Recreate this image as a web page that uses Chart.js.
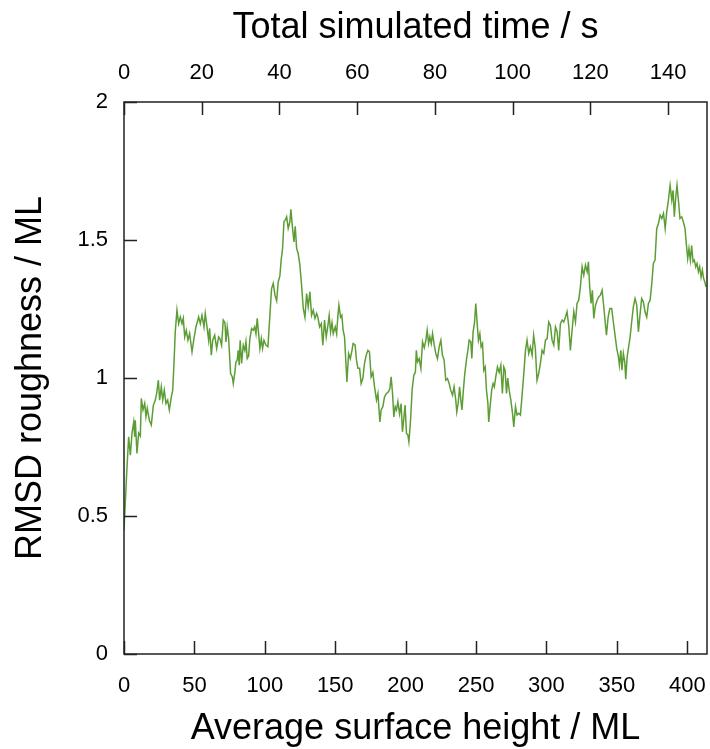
<!DOCTYPE html>
<html>
<head>
<meta charset="utf-8">
<script src="https://cdn.jsdelivr.net/npm/chart.js@4.4.1/dist/chart.umd.min.js"></script>
<style>
  body { margin: 0; background: #fff; }
  #wrap { width: 710px; height: 749px; }
</style>
</head>
<body>
<div id="wrap"><canvas id="rough" width="710" height="749"></canvas></div>
<script>
// Average surface height (ML) and RMSD roughness (ML)
const heightML = [
  0, 0.9, 1.9, 3.3, 4.5, 5.7, 6.9, 7.6, 8.0, 9.2, 10.4, 11.6, 12.3, 13.5, 14.7, 15.6, 16.5, 18.0, 19.4, 20.8,
  22.2, 23.2, 24.4, 25.3, 26.5, 27.5, 28.6, 29.8, 31.0, 32.2, 33.6, 34.6, 35.5, 36.4, 37.6, 38.8, 40.0, 41.2, 42.1, 43.1,
  44.2, 45.4, 46.6, 48.3, 49.5, 51.1, 53.0, 54.2, 55.4, 56.8, 57.7, 59.1, 60.1, 60.8, 62.0, 63.0, 64.4, 65.8, 67.2, 68.1,
  69.3, 70.5, 71.7, 72.4, 73.3, 74.3, 75.7, 76.9, 77.6, 78.6, 79.5, 80.4, 81.1, 81.8, 82.5, 83.5, 84.7, 85.8, 86.6, 87.5,
  88.5, 89.4, 90.6, 91.8, 92.8, 93.7, 94.6, 95.6, 96.5, 97.5, 98.4, 99.4, 100.8, 102.2, 103.6, 104.8, 106.0, 107.2, 108.4, 109.5,
  110.7, 111.6, 112.6, 113.6, 114.5, 115.5, 116.6, 117.8, 118.5, 119.5, 120.7, 121.6, 122.6, 123.7, 124.9, 126.1, 127.3, 128.5, 129.7, 130.8,
  132.0, 133.2, 134.4, 135.6, 136.8, 137.7, 138.9, 140.1, 141.2, 142.4, 143.6, 144.8, 145.7, 146.7, 147.7, 148.6, 150.0, 151.0, 151.9, 152.6,
  153.8, 154.7, 155.6, 156.6, 157.6, 158.3, 159.5, 160.7, 161.9, 162.7, 164.1, 165.1, 166.1, 167.3, 168.4, 169.6, 170.8, 172.0, 173.2, 174.3,
  175.5, 176.7, 177.9, 179.3, 180.3, 181.7, 182.6, 183.8, 185.0, 186.4, 187.8, 188.8, 189.7, 190.7, 191.6, 192.6, 193.5, 194.5, 195.7, 196.8,
  197.7, 198.6, 199.6, 200.6, 201.6, 202.3, 203.5, 204.6, 205.8, 206.9, 207.6, 208.4, 209.6, 210.8, 212.0, 213.2, 214.4, 215.3, 216.3, 217.2,
  218.2, 219.1, 220.3, 221.4, 222.6, 223.8, 225.0, 226.1, 227.3, 228.5, 229.7, 230.9, 232.0, 233.3, 234.4, 235.6, 236.3, 237.3, 238.3, 239.2,
  240.0, 241.0, 242.0, 243.3, 244.2, 245.1, 246.3, 247.0, 247.9, 248.9, 249.8, 250.8, 251.7, 252.7, 253.6, 254.6, 255.5, 256.5, 257.4, 258.4,
  259.0, 260.2, 261.1, 262.1, 263.0, 264.0, 265.2, 266.4, 267.6, 268.7, 269.7, 270.6, 271.6, 272.5, 273.5, 274.7, 275.9, 276.8, 278.0, 279.1,
  280.3, 281.5, 282.7, 283.9, 285.1, 286.2, 287.4, 288.6, 289.8, 290.9, 292.1, 293.3, 294.5, 295.7, 296.9, 298.1, 299.3, 300.5, 301.6, 302.8,
  304.0, 305.2, 306.4, 307.6, 308.7, 309.9, 311.1, 312.3, 313.5, 314.6, 315.8, 317.0, 318.2, 319.4, 320.6, 321.7, 322.9, 324.1, 325.3, 326.5,
  327.7, 328.9, 329.8, 330.7, 331.7, 332.6, 333.6, 334.8, 336.0, 337.1, 338.3, 339.5, 340.7, 341.7, 342.6, 343.8, 345.0, 346.3, 347.5, 348.7,
  349.9, 351.1, 351.8, 352.8, 353.6, 354.6, 355.6, 356.3, 357.3, 358.2, 359.4, 360.5, 361.7, 362.9, 364.1, 365.3, 366.4, 367.6, 368.8, 370.0,
  371.2, 372.4, 373.6, 374.7, 375.9, 377.1, 378.3, 379.5, 380.7, 381.9, 383.1, 384.3, 385.4, 386.6, 387.8, 389.0, 389.9, 390.8, 391.8, 392.7,
  393.7, 394.8, 396.0, 397.2, 398.4, 399.3, 400.3, 401.2, 402.2, 403.1, 404.1, 405.0, 406.0, 406.9, 407.9, 408.8, 409.8, 410.7, 411.6, 412.5,
  413.2
];
const rmsdML = [
  0.449, 0.546, 0.654, 0.787, 0.72, 0.80, 0.84, 0.787, 0.847, 0.727, 0.80, 0.79, 0.926, 0.884, 0.908, 0.86, 0.89, 0.847, 0.83, 0.90,
  0.92, 0.944, 0.992, 0.92, 0.968, 0.92, 0.956, 0.908, 0.92, 0.884, 0.932, 0.956, 1.053, 1.167, 1.246, 1.197, 1.221, 1.197, 1.216, 1.149,
  1.173, 1.137, 1.161, 1.095, 1.137, 1.185, 1.221, 1.197, 1.227, 1.185, 1.234, 1.179, 1.137, 1.18, 1.083, 1.137, 1.155, 1.107, 1.149, 1.143,
  1.119, 1.21, 1.20, 1.131, 1.185, 1.143, 1.016, 1.004, 0.98, 1.016, 1.058, 1.065, 1.10, 1.046, 1.137, 1.053, 1.119, 1.10, 1.131, 1.071,
  1.08, 1.143, 1.179, 1.173, 1.185, 1.16, 1.216, 1.161, 1.107, 1.143, 1.107, 1.137, 1.119, 1.113, 1.227, 1.324, 1.343, 1.30, 1.28, 1.348,
  1.37, 1.427, 1.469, 1.566, 1.572, 1.584, 1.542, 1.566, 1.611, 1.553, 1.493, 1.55, 1.469, 1.451, 1.409, 1.336, 1.252, 1.22, 1.306, 1.258,
  1.312, 1.227, 1.246, 1.216, 1.234, 1.22, 1.185, 1.197, 1.119, 1.21, 1.149, 1.19, 1.227, 1.167, 1.20, 1.161, 1.185, 1.16, 1.227, 1.264,
  1.22, 1.227, 1.173, 1.149, 1.053, 0.986, 1.089, 1.07, 1.10, 1.125, 1.12, 1.065, 1.035, 1.035, 0.98, 0.998, 1.053, 1.083, 1.10, 1.095,
  1.004, 1.02, 0.968, 0.92, 0.944, 0.841, 0.884, 0.896, 0.932, 0.944, 0.95, 0.962, 1.004, 0.944, 0.859, 0.896, 0.884, 0.914, 0.87, 0.907,
  0.805, 0.847, 0.902, 0.799, 0.793, 0.769, 0.847, 0.956, 1.01, 1.02, 1.10, 1.058, 1.07, 1.035, 1.131, 1.11, 1.137, 1.173, 1.125, 1.149,
  1.125, 1.161, 1.12, 1.089, 1.07, 1.113, 1.137, 1.083, 1.065, 0.992, 0.998, 0.98, 0.956, 0.938, 0.968, 0.92, 0.877, 0.908, 0.968, 0.92,
  0.884, 0.956, 1.016, 1.071, 1.10, 1.137, 1.131, 1.071, 1.167, 1.20, 1.27, 1.197, 1.137, 1.161, 1.113, 1.125, 1.028, 1.04, 0.956, 0.908,
  0.841, 0.908, 0.956, 0.98, 0.968, 1.004, 1.04, 1.02, 1.046, 0.944, 1.04, 1.028, 0.944, 1.0, 0.956, 0.92, 0.872, 0.823, 0.896, 0.866,
  0.872, 0.866, 0.938, 1.016, 1.10, 1.137, 1.089, 1.113, 1.083, 1.155, 1.107, 0.992, 1.016, 1.053, 1.10, 1.089, 1.137, 1.143, 1.203, 1.19,
  1.137, 1.119, 1.185, 1.167, 1.10, 1.197, 1.21, 1.203, 1.221, 1.24, 1.19, 1.10, 1.173, 1.24, 1.203, 1.27, 1.282, 1.33, 1.403, 1.373,
  1.409, 1.385, 1.421, 1.33, 1.27, 1.318, 1.216, 1.264, 1.282, 1.294, 1.30, 1.318, 1.258, 1.203, 1.155, 1.221, 1.252, 1.252, 1.203, 1.155,
  1.107, 1.077, 1.046, 1.10, 1.028, 1.089, 1.058, 0.996, 1.077, 1.107, 1.149, 1.203, 1.258, 1.288, 1.264, 1.167, 1.228, 1.288, 1.276, 1.24,
  1.221, 1.27, 1.282, 1.336, 1.415, 1.427, 1.541, 1.56, 1.59, 1.578, 1.596, 1.541, 1.602, 1.644, 1.698, 1.644, 1.68, 1.584, 1.655, 1.698,
  1.644, 1.578, 1.584, 1.566, 1.541, 1.487, 1.433, 1.469, 1.427, 1.48, 1.421, 1.427, 1.403, 1.415, 1.385, 1.403, 1.366, 1.391, 1.36, 1.348,
  1.33
];

// axis ranges and ticks
const heightTicks = [0, 50, 100, 150, 200, 250, 300, 350, 400];
const timeTicks = [0, 20, 40, 60, 80, 100, 120, 140];
const rmsdTicks = [0, 0.5, 1, 1.5, 2];
const heightMax = 414;
const timeMax = 150;

const lineGreen = '#5c9e35';
const axisInk = '#222';
const tickLen = 13;
const fontFam = '"Liberation Sans", Arial, sans-serif';

const points = heightML.map((h, i) => ({ x: h, y: rmsdML[i] }));

// box round the plot + inward tick marks
const framePlugin = {
  id: 'framePlugin',
  afterDatasetsDraw(chart) {
    const { ctx, chartArea: a, scales } = chart;
    ctx.save();
    ctx.strokeStyle = axisInk;
    ctx.lineWidth = 1.5;
    ctx.strokeRect(a.left, a.top, a.right - a.left, a.bottom - a.top);
    ctx.beginPath();
    scales.x.ticks.forEach(t => {
      const px = Math.round(scales.x.getPixelForValue(t.value)) + 0.5;
      ctx.moveTo(px, a.bottom);
      ctx.lineTo(px, a.bottom - tickLen);
    });
    scales.time.ticks.forEach(t => {
      const px = Math.round(scales.time.getPixelForValue(t.value)) + 0.5;
      ctx.moveTo(px, a.top);
      ctx.lineTo(px, a.top + tickLen);
    });
    scales.y.ticks.forEach(t => {
      const py = Math.round(scales.y.getPixelForValue(t.value)) + 0.5;
      ctx.moveTo(a.left, py);
      ctx.lineTo(a.left + tickLen, py);
    });
    ctx.stroke();
    ctx.restore();
  }
};

const tickFont = { family: fontFam, size: 22 };
const titleFont = { family: fontFam, size: 36, lineHeight: 1.1 };

// fixed axis boxes so the plot area sits where the original one does
function fixX(h) {
  return s => { s.height = h; s.paddingLeft = 0; s.paddingRight = 0; };
}

new Chart(document.getElementById('rough'), {
  type: 'line',
  data: {
    datasets: [{
      data: points,
      borderColor: lineGreen,
      borderWidth: 1.5,
      pointRadius: 0,
      tension: 0,
      fill: false
    }]
  },
  options: {
    responsive: false,
    animation: false,
    devicePixelRatio: 1,
    layout: { padding: { left: 0, right: 3, top: 0, bottom: 0 } },
    plugins: { legend: { display: false }, tooltip: { enabled: false } },
    scales: {
      x: {
        type: 'linear',
        position: 'bottom',
        min: 0,
        max: heightMax,
        afterBuildTicks: s => { s.ticks = heightTicks.map(v => ({ value: v })); },
        afterFit: fixX(95),
        grid: { display: false, drawTicks: false },
        border: { display: false },
        ticks: { font: tickFont, color: '#000', padding: 19, maxRotation: 0, callback: v => String(v) },
        title: { display: true, text: 'Average surface height / ML', font: titleFont, color: '#000', padding: 0 }
      },
      time: {
        type: 'linear',
        position: 'top',
        axis: 'x',
        min: 0,
        max: timeMax,
        afterBuildTicks: s => { s.ticks = timeTicks.map(v => ({ value: v })); },
        afterFit: fixX(102),
        grid: { display: false, drawTicks: false },
        border: { display: false },
        ticks: { font: tickFont, color: '#000', padding: 16, maxRotation: 0, callback: v => String(v) },
        title: { display: true, text: 'Total simulated time / s', font: titleFont, color: '#000', padding: { top: 8 } }
      },
      y: {
        type: 'linear',
        position: 'left',
        min: 0,
        max: 2,
        afterBuildTicks: s => { s.ticks = rmsdTicks.map(v => ({ value: v })); },
        afterFit: s => { s.width = 124; s.paddingTop = 0; s.paddingBottom = 0; },
        grid: { display: false, drawTicks: false },
        border: { display: false },
        ticks: { font: tickFont, color: '#000', padding: 16, callback: v => String(v) },
        title: { display: true, text: 'RMSD roughness / ML', font: titleFont, color: '#000', padding: { top: 11 } }
      }
    }
  },
  plugins: [framePlugin]
});
</script>
</body>
</html>
